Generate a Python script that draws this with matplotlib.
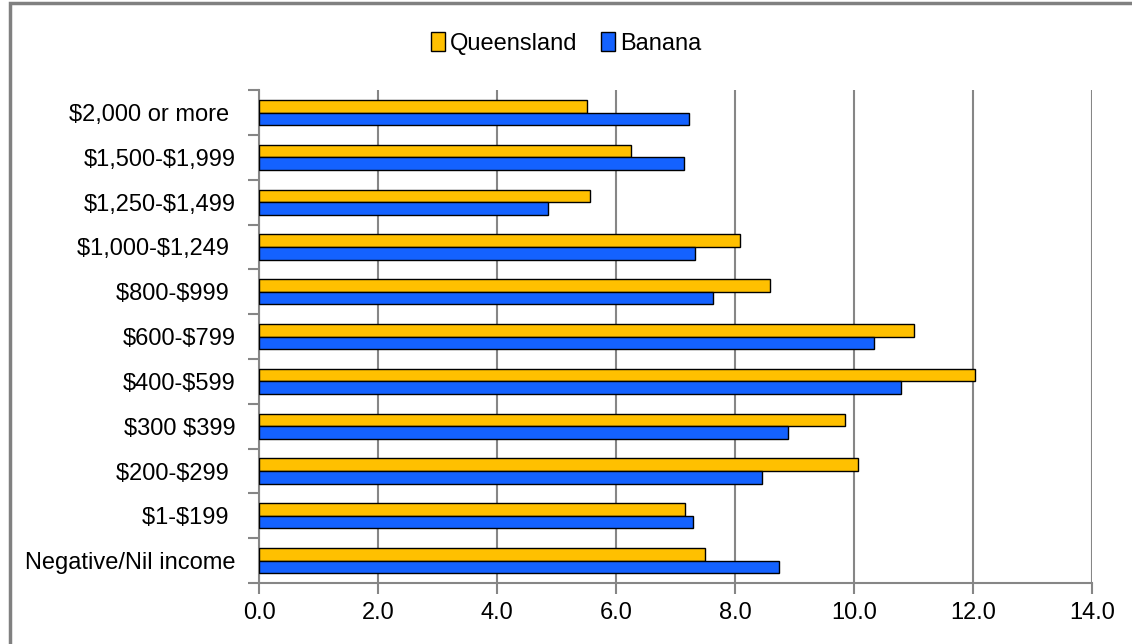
import numpy as np
import matplotlib.pyplot as plt
from matplotlib.patches import Rectangle

plt.rcParams['font.family'] = ['Liberation Sans', 'DejaVu Sans']
plt.rcParams['text.parse_math'] = False

# ================== 数据 ==================
categories = ['Negative/Nil income', '$1-$199 ', '$200-$299 ', '$300 $399', '$400-$599',
              '$600-$799', '$800-$999 ', '$1,000-$1,249 ', '$1,250-$1,499',
              '$1,500-$1,999', '$2,000 or more ']
queensland = [7.50, 7.16, 10.07, 9.85, 12.03, 11.01, 8.59, 8.08, 5.56, 6.25, 5.51]
banana = [8.74, 7.29, 8.45, 8.89, 10.79, 10.34, 7.63, 7.33, 4.86, 7.14, 7.23]
x_ticks = [0, 2, 4, 6, 8, 10, 12, 14]

GOLD = '#FFC000'
BLUE = '#1462FF'
GRID = '#868686'

fig = plt.figure(figsize=(11.32, 6.44), dpi=100)
ax = fig.add_axes([0.2288, 0.0947, 0.7359, 0.7653])

y = np.arange(len(categories))
h = 0.28
ax.barh(y + h / 2, queensland, height=h, color=GOLD, edgecolor='black', linewidth=1, label='Queensland', zorder=3)
ax.barh(y - h / 2, banana, height=h, color=BLUE, edgecolor='black', linewidth=1, label='Banana', zorder=3)

ax.set_xlim(0, 14)
ax.set_ylim(-0.5, len(categories) - 0.5)
ax.set_xticks(x_ticks)
ax.set_xticklabels([f'{v:.1f}' for v in x_ticks], fontsize=17)
ax.set_yticks(y)
ax.set_yticklabels(categories, fontsize=17)
ax.set_yticks(np.arange(-0.5, len(categories)), minor=True)
ax.tick_params(axis='y', which='major', length=0, pad=17)
ax.tick_params(axis='y', which='minor', length=8, color=GRID, width=1.5, direction='out')
ax.tick_params(axis='x', length=8, color=GRID, width=1.5, direction='out', pad=6)

ax.grid(axis='x', color=GRID, linewidth=1.5, zorder=0)
for s in ['top', 'right']:
    ax.spines[s].set_visible(False)
for s in ['left', 'bottom']:
    ax.spines[s].set_color(GRID)
    ax.spines[s].set_linewidth(1.5)

fig.legend(loc='center', bbox_to_anchor=(0.5, 0.933), ncol=2, frameon=False, fontsize=17,
           handlelength=0.6, handleheight=0.9, handletextpad=0.2, columnspacing=1.0)

# 外框
fig.patches.append(Rectangle((10 / 1132, -0.02), 1.02, 1 - 3 / 644 + 0.02, transform=fig.transFigure,
                             fill=False, edgecolor='#808080', linewidth=2.5))

fig.savefig('out.png', dpi=100)
